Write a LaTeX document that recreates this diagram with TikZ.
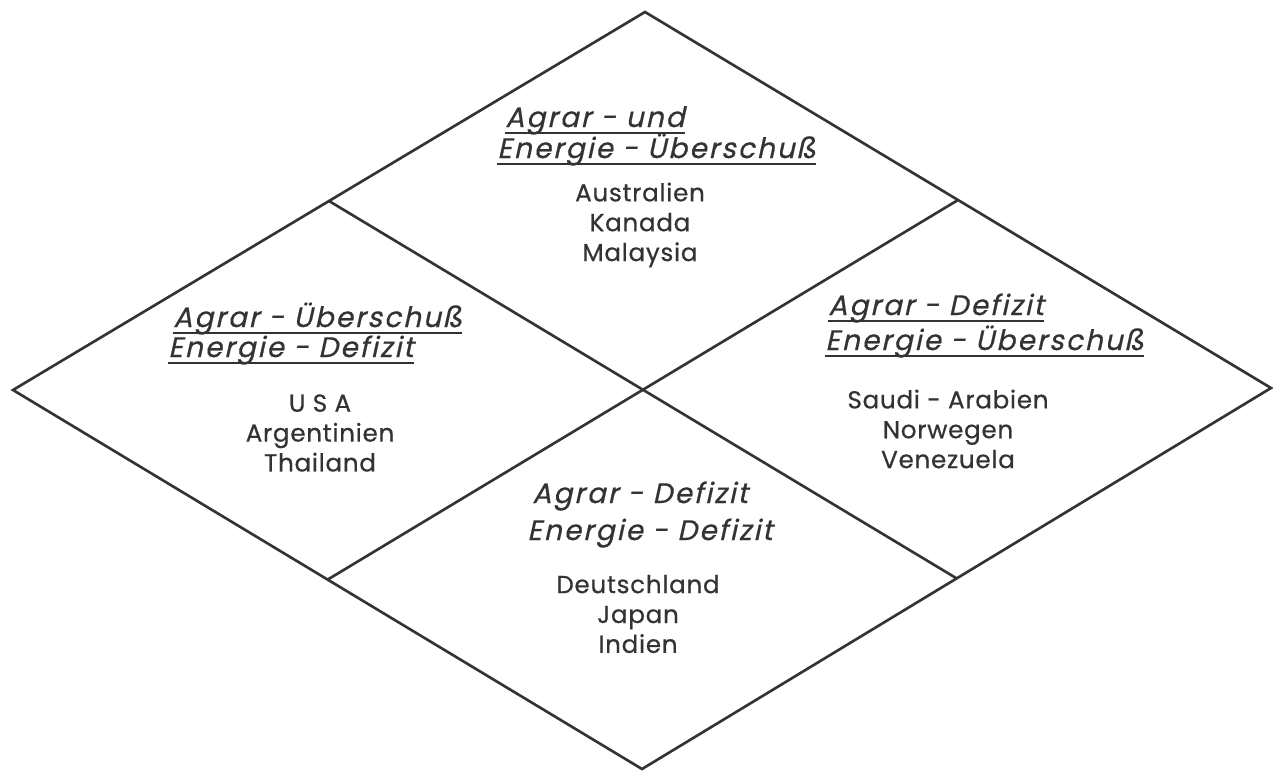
\documentclass[tikz,border=0pt]{standalone}
\usepackage{fontspec}
\usepackage{tikz}
\newfontfamily\headfont[FakeSlant=0.22,LetterSpace=7,FakeBold=0.6]{Poppins}
\newfontfamily\landfont[LetterSpace=3,FakeBold=0.6]{Poppins}
\definecolor{ink}{gray}{0.2}

\tikzset{
  feld/.style={draw=ink, line width=1.5pt, line join=miter},
  head/.style={font=\headfont\fontsize{16}{19}\selectfont, text=ink, anchor=base west, inner sep=0pt},
  land/.style={font=\landfont\fontsize{14}{17}\selectfont, text=ink, align=center, inner sep=0pt},
  uline/.style={draw=ink, line width=1.2pt}
}

\begin{document}
\begin{tikzpicture}[x=0.02cm,y=-0.02cm]

\useasboundingbox (0,0) rectangle (1273,771);

% Ecken der Raute
\coordinate (T) at (645,12);
\coordinate (R) at (1271,388);
\coordinate (B) at (642,769);
\coordinate (L) at (13,390);

% Seitenmitten
\coordinate (TL) at (329,201);
\coordinate (TR) at (958,200);
\coordinate (BR) at (956,578);
\coordinate (BL) at (327,580);

\draw [feld] (T) -- (R) -- (B) -- (L) -- cycle;
\draw [feld] (TL) -- (BR);
\draw [feld] (TR) -- (BL);

% oben
\node [head] (o1) at (505,127) {Agrar - und};
\node [head] (o2) at (497,158) {Energie - Überschuß};
\node [land] (oland) at (640,225) {Australien\\Kanada\\Malaysia};

% links
\node [head] (l1) at (173,327) {Agrar - Überschuß};
\node [head] (l2) at (168,357) {Energie - Defizit};
\node [land] (lland) at (320,433) {U S A\\Argentinien\\Thailand};

% rechts
\node [head] (r1) at (828,315) {Agrar - Defizit};
\node [head] (r2) at (825,350) {Energie - Überschuß};
\node [land] (rland) at (948,429) {Saudi - Arabien\\Norwegen\\Venezuela};

% unten (ohne Unterstreichung)
\node [head] (u1) at (532,503) {Agrar - Defizit};
\node [head] (u2) at (527,540) {Energie - Defizit};
\node [land] (uland) at (638,614) {Deutschland\\Japan\\Indien};

\foreach \h in {o1,o2,l1,l2,r1,r2}
    \draw [uline] ([yshift=-3.5pt]\h.base west) -- ([yshift=-3.5pt]\h.base east);

\end{tikzpicture}
\end{document}
